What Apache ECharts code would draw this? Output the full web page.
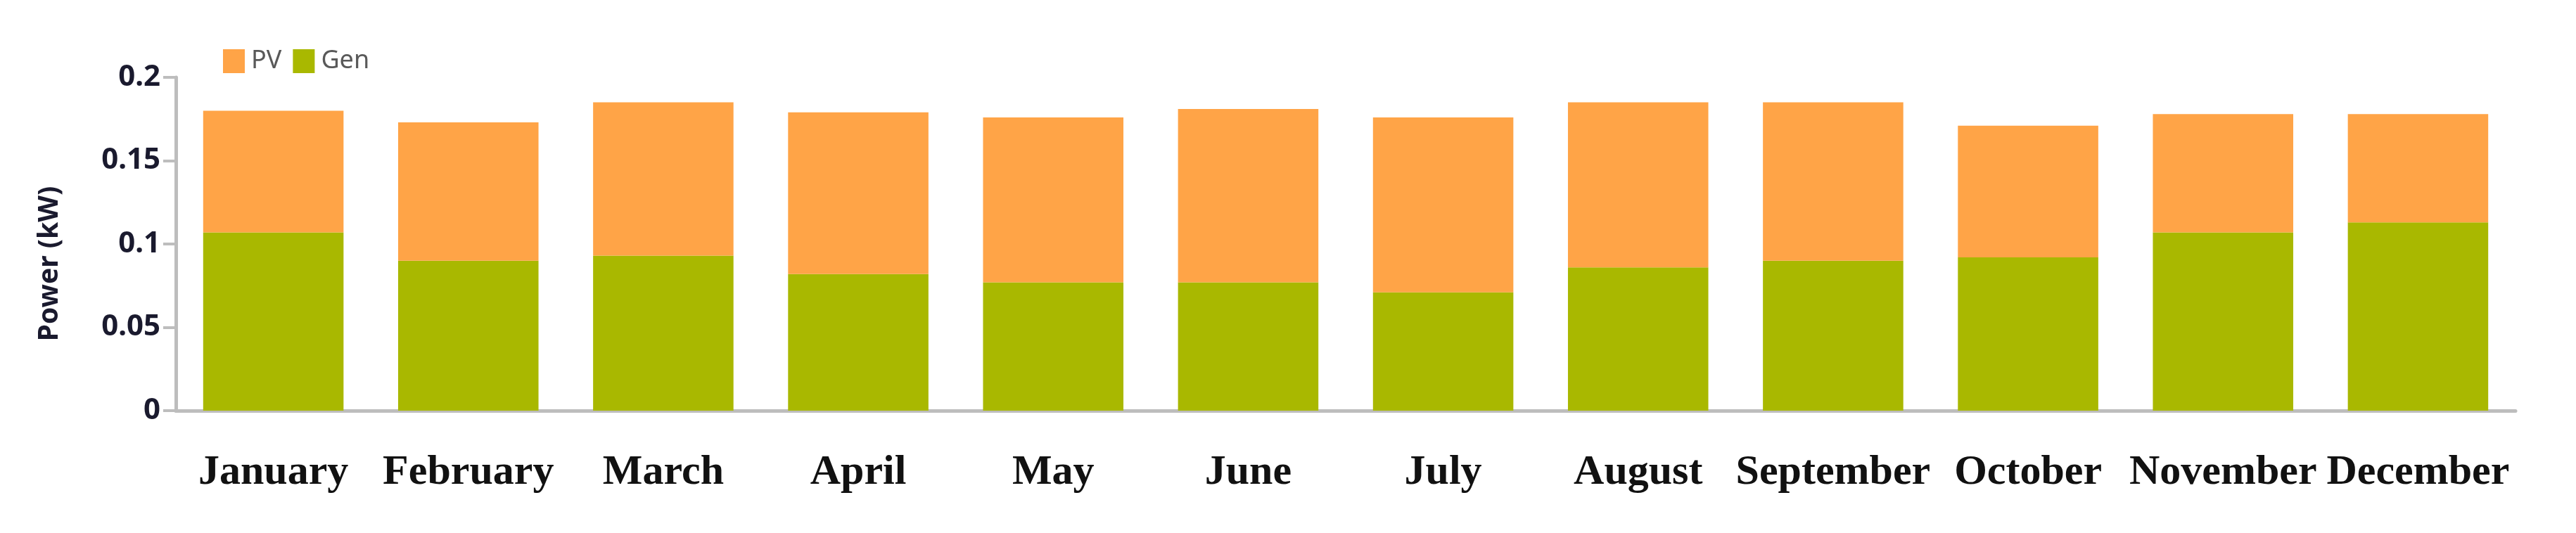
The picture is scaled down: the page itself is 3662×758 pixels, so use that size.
<!DOCTYPE html>
<html>
<head>
<meta charset="utf-8">
<title>Power (kW)</title>
<script src="https://cdn.jsdelivr.net/npm/echarts@6/dist/echarts.min.js"></script>
<style>
html, body { margin: 0; padding: 0; background: #fff; }
#chart { width: 3662px; height: 758px; }
</style>
</head>
<body>
<div id="chart"></div>
<script>
// monthly averages
const months = ["January", "February", "March", "April", "May", "June",
    "July", "August", "September", "October", "November", "December"];
const genValues = [0.107, 0.090, 0.093, 0.082, 0.077, 0.077, 0.071, 0.086, 0.090, 0.092, 0.107, 0.113];
const pvValues = [0.073, 0.083, 0.092, 0.097, 0.099, 0.104, 0.105, 0.099, 0.095, 0.079, 0.071, 0.065];
const seriesNames = ["PV", "Gen"];

const colors = {
    PV: "#ffa447",
    Gen: "#a9b800",
};
const axisGray = "#bdbdbd";

const graph = echarts.init(document.getElementById("chart"));

const option = {
    animation: false,
    legend: {
        data: seriesNames,
        icon: "rect",
        left: 312,
        top: 64,
        itemWidth: 31,
        itemHeight: 34,
        itemGap: 16,
        textStyle: {
            color: "#595959",
            fontFamily: "Noto Sans",
            fontSize: 36,
            padding: [4, 0, 0, 4],
        },
    },
    grid: {
        left: 250,
        right: 86,
        top: 110,
        bottom: 174,
        outerBoundsMode: "none",
    },
    xAxis: {
        type: "category",
        data: months,
        axisLine: { lineStyle: { color: axisGray, width: 5 } },
        axisTick: { length: 24, lineStyle: { color: axisGray, width: 4 } },
        axisLabel: {
            interval: 0,
            margin: 58,
            color: "#111",
            fontFamily: "Liberation Serif",
            fontWeight: "bold",
            fontSize: 60,
        },
    },
    yAxis: {
        type: "value",
        min: 0,
        max: 0.2,
        interval: 0.05,
        name: "Power (kW)",
        nameLocation: "middle",
        nameRotate: 90,
        nameGap: 160,
        nameTextStyle: {
            color: "#1a1a2e",
            fontFamily: "Noto Sans",
            fontWeight: "bold",
            fontSize: 39,
            padding: [0, 56, 0, 0],
        },
        axisLine: { show: true, lineStyle: { color: axisGray, width: 5 } },
        axisTick: { show: true, length: 18, lineStyle: { color: axisGray, width: 4 } },
        splitLine: { show: false },
        axisLabel: {
            margin: 22,
            color: "#1a1a2e",
            fontFamily: "Noto Sans",
            fontWeight: "bold",
            fontSize: 42,
        },
    },
    series: [
        {
            name: "Gen",
            type: "bar",
            stack: "power",
            barCategoryGap: "28%",
            itemStyle: { color: colors.Gen },
            data: genValues,
        },
        {
            name: "PV",
            type: "bar",
            stack: "power",
            barCategoryGap: "28%",
            itemStyle: { color: colors.PV },
            data: pvValues,
        },
    ],
};

graph.setOption(option);
</script>
</body>
</html>
